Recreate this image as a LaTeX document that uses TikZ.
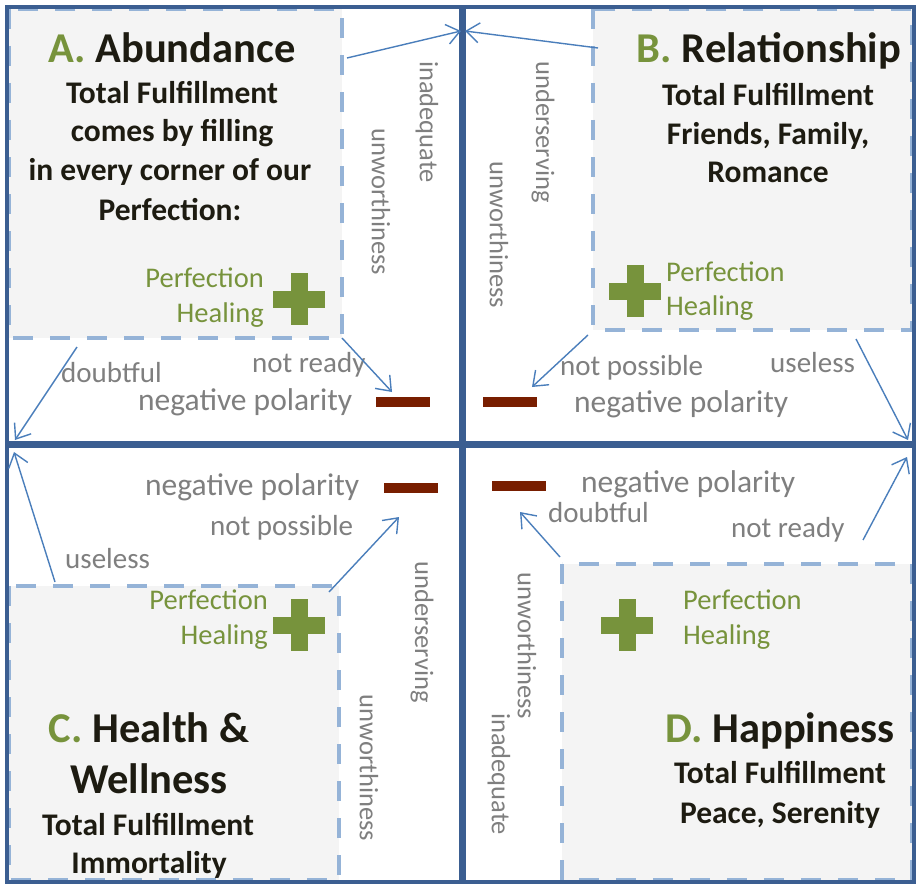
\documentclass[tikz,border=0pt]{standalone}
\usepackage{fontspec}
\setmainfont{Carlito}
\usetikzlibrary{arrows.meta}
\definecolor{frameblue}{RGB}{59,94,145}
\definecolor{dashblue}{RGB}{149,179,215}
\definecolor{boxgray}{RGB}{244,244,244}
\definecolor{leafgreen}{RGB}{119,147,60}
\definecolor{minusred}{RGB}{120,30,0}
\definecolor{labelgray}{RGB}{127,127,127}
\definecolor{arrowblue}{RGB}{74,126,187}
\definecolor{titledark}{RGB}{29,27,17}
\tikzset{
  quadframe/.style={draw=frameblue, line width=4.5pt},
  graybox/.style={fill=boxgray, draw=dashblue, line width=4pt, dash pattern=on 20pt off 17pt},
  titletext/.style={inner sep=0pt, anchor=base, text=titledark, font=\fontsize{42.5}{50}\selectfont\bfseries},
  subtext/.style={inner sep=0pt, anchor=base, text=titledark, font=\fontsize{31.5}{38}\selectfont\bfseries},
  greentext/.style={inner sep=0pt, text=leafgreen, font=\fontsize{28.5}{34}\selectfont},
  graytext/.style={inner sep=0pt, text=labelgray, font=\fontsize{29}{34}\selectfont},
  polaritytext/.style={inner sep=0pt, anchor=base west, text=labelgray, font=\fontsize{31.5}{36}\selectfont},
  vertext/.style={inner sep=0pt, text=labelgray, rotate=-90, font=\fontsize{26.5}{30}\selectfont},
  link/.style={draw=arrowblue, line width=1.4pt, -{Straight Barb[length=13pt,width=20pt,line width=1.4pt]}},
  pluspic/.pic={\fill[leafgreen] (-26,-8.5) rectangle (26,8.5); \fill[leafgreen] (-8.5,-26) rectangle (8.5,26);},
  minusbar/.style={fill=minusred}
}
\begin{document}
\begin{tikzpicture}[x=1pt,y=-1pt]
\useasboundingbox (0,0) rectangle (920,888);
\fill[white] (0,0) rectangle (920,888);

% gray boxes
\draw[graybox] (9,9) rectangle (342,338);
\draw[graybox] (593,9) rectangle (912,330);
\draw[graybox] (9,586) rectangle (339,880);
\draw[graybox] (562,564) rectangle (912,880);

% frames
\draw[quadframe] (7,7) rectangle (461,443);
\draw[quadframe] (464,7) rectangle (914,443);
\draw[quadframe] (7,446) rectangle (461,882);
\draw[quadframe] (464,446) rectangle (914,882);

% pluses
\pic at (299,299) {pluspic};
\pic at (635,291) {pluspic};
\pic at (299,625) {pluspic};
\pic at (627,625) {pluspic};

% minus bars
\fill[minusbar] (376,397) rectangle (430,407);
\fill[minusbar] (483,397) rectangle (537,407);
\fill[minusbar] (384,483) rectangle (438,493);
\fill[minusbar] (492,481) rectangle (546,491);

% Quadrant A text
\node[titletext] (tA) at (172,63) {\textcolor{leafgreen}{A.} Abundance};
\node[subtext] (a1) at (172,103) {Total Fulfillment};
\node[subtext] (a2) at (172,142) {comes by filling};
\node[subtext] (a3) at (170,180) {in every corner of our};
\node[subtext] (a4) at (170,220) {Perfection:};
\node[greentext, anchor=base east] (ap1) at (264,287) {Perfection};
\node[greentext, anchor=base east] (ap2) at (264,322) {Healing};

% Quadrant B text
\node[titletext] (tB) at (769,63) {\textcolor{leafgreen}{B.} Relationship};
\node[subtext] (b1) at (768,106) {Total Fulfillment};
\node[subtext] (b2) at (768,144) {Friends, Family,};
\node[subtext] (b3) at (768,182) {Romance};
\node[greentext, anchor=base west] (bp1) at (666,281) {Perfection};
\node[greentext, anchor=base west] (bp2) at (666,315) {Healing};

% Quadrant C text
\node[titletext] (tC) at (149,742) {\textcolor{leafgreen}{C.} Health \&};
\node[titletext] (tC2) at (149,793) {Wellness};
\node[subtext] (c1) at (148,835) {Total Fulfillment};
\node[subtext] (c2) at (149,873) {Immortality};
\node[greentext, anchor=base east] (cp1) at (268,609) {Perfection};
\node[greentext, anchor=base east] (cp2) at (268,644) {Healing};

% Quadrant D text
\node[titletext] (tD) at (780,742) {\textcolor{leafgreen}{D.} Happiness};
\node[subtext] (d1) at (780,783) {Total Fulfillment};
\node[subtext] (d2) at (780,823) {Peace, Serenity};
\node[greentext, anchor=base west] (dp1) at (683,609) {Perfection};
\node[greentext, anchor=base west] (dp2) at (683,644) {Healing};

% gray labels
\node[graytext, anchor=base west] (gA1) at (61,382) {doubtful};
\node[graytext, anchor=base west] (gA2) at (252,372) {not ready};
\node[polaritytext] (gA3) at (138,410) {negative polarity};
\node[graytext, anchor=base west] (gB1) at (560,375) {not possible};
\node[graytext, anchor=base west] (gB2) at (770,372) {useless};
\node[polaritytext] (gB3) at (574,412) {negative polarity};
\node[polaritytext] (gC3) at (145,495) {negative polarity};
\node[graytext, anchor=base west] (gC1) at (210,535) {not possible};
\node[graytext, anchor=base west] (gC2) at (65,568) {useless};
\node[polaritytext] (gD3) at (581,492) {negative polarity};
\node[graytext, anchor=base west] (gD1) at (548,522) {doubtful};
\node[graytext, anchor=base west] (gD2) at (731,537) {not ready};

% vertical labels
\node[vertext] (vA1) at (427,122) {inadequate};
\node[vertext] (vA2) at (381,202) {unworthiness};
\node[vertext] (vB1) at (543,132) {underserving};
\node[vertext] (vB2) at (499,235) {unworthiness};
\node[vertext] (vC1) at (422,632) {underserving};
\node[vertext] (vC2) at (369,768) {unworthiness};
\node[vertext] (vD1) at (527,646) {unworthiness};
\node[vertext] (vD2) at (499,774) {inadequate};

% arrow endpoints
\coordinate (a1s) at (347,58);   \coordinate (a1e) at (461,31);
\coordinate (b1s) at (598,48);   \coordinate (b1e) at (465,31);
\coordinate (a2s) at (77,347);   \coordinate (a2e) at (15,440);
\coordinate (a3s) at (342,338);  \coordinate (a3e) at (392,392);
\coordinate (b2s) at (588,335);  \coordinate (b2e) at (532,387);
\coordinate (b3s) at (856,339);  \coordinate (b3e) at (908,440);
\coordinate (c1s) at (55,582);   \coordinate (c1e) at (14,452);
\coordinate (c2s) at (329,592);  \coordinate (c2e) at (399,517);
\coordinate (d1s) at (560,557);  \coordinate (d1e) at (520,512);
\coordinate (d2s) at (863,540);  \coordinate (d2e) at (907,457);

\draw[link] (a1s) -- (a1e);
\draw[link] (b1s) -- (b1e);
\draw[link] (a2s) -- (a2e);
\draw[link] (a3s) -- (a3e);
\draw[link] (b2s) -- (b2e);
\draw[link] (b3s) -- (b3e);
\draw[link] (c1s) -- (c1e);
\draw[link] (c2s) -- (c2e);
\draw[link] (d1s) -- (d1e);
\draw[link] (d2s) -- (d2e);
\end{tikzpicture}
\end{document}
